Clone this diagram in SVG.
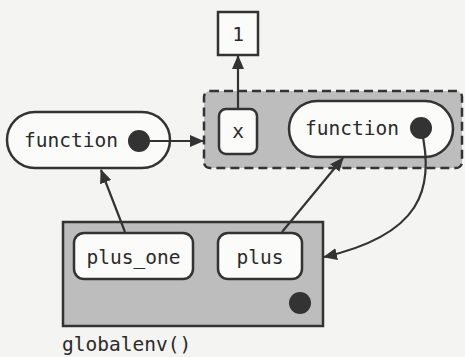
<svg xmlns="http://www.w3.org/2000/svg" width="465" height="357" viewBox="0 0 465 357">
<style>
.bg{fill:#f4f4f2}
.env{fill:#bdbdbd;stroke:#333;stroke-width:2.5}
.dashed{stroke-dasharray:9 5}
.node{fill:#fbfbfa;stroke:#333;stroke-width:2.5}
.dot{fill:#333}
.t{font-family:"DejaVu Sans Mono","Liberation Mono",monospace;font-size:19.5px;fill:#2a2a2a}
.c{fill:none;stroke:#333;stroke-width:2.2}
</style>
<defs>
<marker id="ah" viewBox="0 0 14 12" refX="13" refY="6" markerWidth="14" markerHeight="12" markerUnits="userSpaceOnUse" orient="auto">
<path d="M0,0 L14,6 L0,12 Z" fill="#333"/>
</marker>
</defs>
<rect class="bg" x="0" y="0" width="465" height="357"/>
<g id="fenv">
<rect class="env dashed" x="204" y="91" width="258" height="77" rx="6"/>
</g>
<g id="genv">
<rect class="env" x="63" y="222" width="260" height="104"/>
<circle class="dot" cx="300" cy="303" r="11"/>
<text class="t" x="62" y="351">globalenv()</text>
</g>
<g id="one">
<rect class="node" x="218" y="12" width="40" height="43"/>
<text class="t" x="238" y="41" text-anchor="middle">1</text>
</g>
<g id="x">
<rect class="node" x="219" y="109" width="38" height="45" rx="7"/>
<text class="t" x="238" y="138" text-anchor="middle">x</text>
</g>
<g id="fun_right">
<rect class="node" x="289" y="101" width="164" height="56" rx="28"/>
<text class="t" x="305" y="135">function</text>
<circle class="dot" cx="421" cy="128" r="11"/>
</g>
<g id="fun_left">
<rect class="node" x="7" y="112" width="163" height="56" rx="28"/>
<text class="t" x="24" y="147">function</text>
<circle class="dot" cx="139" cy="141" r="11"/>
</g>
<g id="plus_one">
<rect class="node" x="74" y="233" width="119" height="46" rx="10"/>
<text class="t" x="133.5" y="264" text-anchor="middle">plus_one</text>
</g>
<g id="plus">
<rect class="node" x="218" y="233" width="84" height="46" rx="10"/>
<text class="t" x="260" y="264" text-anchor="middle">plus</text>
</g>
<g id="connectors">
<line class="c" x1="150" y1="141" x2="203" y2="141" marker-end="url(#ah)"/>
<line class="c" x1="238" y1="108" x2="238" y2="56" marker-end="url(#ah)"/>
<line class="c" x1="125" y1="232" x2="101" y2="170" marker-end="url(#ah)"/>
<line class="c" x1="282" y1="232" x2="343" y2="158" marker-end="url(#ah)"/>
<path class="c" d="M421,128 C436,190 420,235 324,257" marker-end="url(#ah)"/>
</g>
</svg>
